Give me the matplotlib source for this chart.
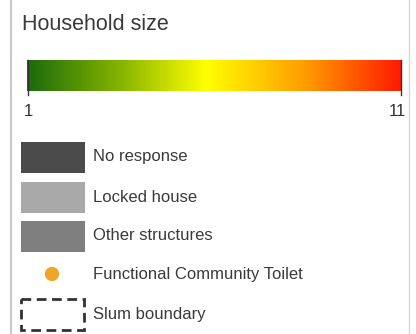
import numpy as np
import matplotlib
matplotlib.use("Agg")
import matplotlib.pyplot as plt
from matplotlib.colors import LinearSegmentedColormap
from matplotlib.patches import Rectangle

title = "Household size"
vmin, vmax = 1, 11
tick_labels = ["1", "11"]
cmap_colors = ["#1c6a0c", "#86b500", "#ffff00", "#ff9a00", "#ff1a00"]
cmap_stops = [0.0, 0.25, 0.48, 0.75, 1.0]

swatch_labels = ["No response", "Locked house", "Other structures"]
swatch_colors = ["#4b4b4b", "#a9a9a9", "#7f7f7f"]
point_label = "Functional Community Toilet"
point_color = "#f0a428"
boundary_label = "Slum boundary"

W, H = 416, 334
fig = plt.figure(figsize=(W / 100, H / 100), dpi=100)
ax = fig.add_axes([0, 0, 1, 1])
ax.set_xlim(0, W)
ax.set_ylim(H, 0)
ax.axis("off")

# frame
ax.plot([11, 11], [0, H], color="#c8c8c8", lw=1.5)
ax.plot([409, 409], [0, H], color="#d8d8d8", lw=1)

ax.text(22, 25, title, fontsize=15.5, color="#3a3a3a", va="center", ha="left",
        family="Liberation Sans")

cmap = LinearSegmentedColormap.from_list("hh", list(zip(cmap_stops, cmap_colors)))
grad = np.linspace(vmin, vmax, 512).reshape(1, -1)
ax.imshow(grad, cmap=cmap, vmin=vmin, vmax=vmax, aspect="auto",
          extent=(27, 401, 91, 60), zorder=2)
ax.plot([27.5, 27.5], [60, 95], color="#333333", lw=1, zorder=3)
ax.plot([400.5, 400.5], [60, 95], color="#333333", lw=1, zorder=3)
ax.text(28, 112, tick_labels[0], fontsize=12, color="#333333", ha="center",
        va="center", family="Liberation Sans")
ax.text(397, 112, tick_labels[1], fontsize=12, color="#333333", ha="center",
        va="center", family="Liberation Sans")

ys = [157, 197, 236]
for lab, col, y in zip(swatch_labels, swatch_colors, ys):
    ax.add_patch(Rectangle((21, y - 15.5), 64, 31, facecolor=col, edgecolor="none"))
    ax.text(93, y, lab, fontsize=12, color="#3a3a3a", va="center", ha="left",
            family="Liberation Sans")

ax.scatter([52], [274], s=105, color=point_color, zorder=3, edgecolors="none")
ax.text(93, 274, point_label, fontsize=12, color="#3a3a3a", va="center",
        ha="left", family="Liberation Sans")

ax.add_patch(Rectangle((20.5, 299), 63, 31, facecolor="none", edgecolor="#333333",
                       lw=2, linestyle=(0, (3.5, 2))))
ax.text(93, 315, boundary_label, fontsize=12, color="#3a3a3a", va="center",
        ha="left", family="Liberation Sans")

fig.savefig("out.png", dpi=100, facecolor="white")
